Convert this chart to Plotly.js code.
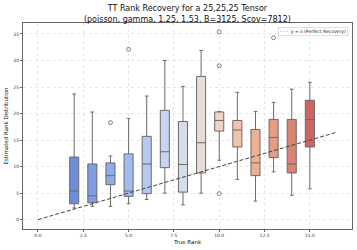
<!DOCTYPE html>
<html>
<head>
<meta charset="utf-8">
<script src="https://cdn.plot.ly/plotly-3.0.1.min.js"></script>
<style>html,body{margin:0;padding:0;background:#fff;}#chart{width:357px;height:250px;}</style>
</head>
<body>
<div id="chart"></div>
<script>
// True ranks (box positions)
const trueRanks = [2, 3, 4, 5, 6, 7, 8, 9, 10, 11, 12, 13, 14, 15];
// Box statistics
const lowerWhisker = [2.2, 2.5, 2.5, 3.0, 3.8, 5.0, 2.8, 5.0, 11.2, 7.6, 3.5, 9.0, 4.6, 5.8];
const q1Values     = [3.0, 3.2, 6.6, 4.4, 4.9, 9.8, 5.2, 8.8, 16.7, 13.7, 8.3, 11.7, 8.8, 13.7];
const medianValues = [5.4, 4.5, 8.3, 5.4, 10.5, 12.8, 10.4, 14.5, 18.7, 16.9, 10.7, 15.5, 10.5, 18.9];
const q3Values     = [11.8, 10.5, 10.7, 12.4, 15.7, 20.6, 18.5, 27.0, 20.3, 18.7, 17.0, 18.9, 18.9, 22.5];
const upperWhisker = [23.7, 20.3, 12.0, 19.1, 23.3, 30.0, 25.1, 31.9, 20.4, 24.0, 20.4, 22.1, 24.6, 25.9];
// Outliers (fliers)
const outlierRanks  = [4, 5, 10, 10, 10, 13];
const outlierValues = [18.3, 32.1, 35.4, 29.0, 4.9, 34.3];
// Perfect recovery reference line
const refLineX = [0, 16.5];
const refLineY = [0, 16.5];
const xTickVals = [0, 2.5, 5, 7.5, 10, 12.5, 15];
const yTickVals = [0, 5, 10, 15, 20, 25, 30, 35];
const legendLabel = 'y = x (Perfect Recovery)';

const boxColors = ['#6f8ddb','#7f9ce3','#8fabea','#a2bbf0','#b5c9f2','#c6d5f0','#d6dde8',
                   '#e8ddd6','#f0d3c4','#f2c3ab','#eeb095','#e69c83','#d98372','#cc6663'];

const traces = [];
trueRanks.forEach((r, i) => {
  traces.push({
    type: 'box',
    x: [r],
    q1: [q1Values[i]],
    median: [medianValues[i]],
    q3: [q3Values[i]],
    lowerfence: [lowerWhisker[i]],
    upperfence: [upperWhisker[i]],
    width: 0.5,
    whiskerwidth: 0.4,
    fillcolor: boxColors[i],
    line: {color: '#6a6a6a', width: 1},
    boxpoints: false,
    hoverinfo: 'skip',
    showlegend: false
  });
});
traces.push({
  type: 'scatter', mode: 'markers',
  x: outlierRanks, y: outlierValues,
  marker: {symbol: 'circle-open', size: 4, color: '#666666', line: {width: 0.8, color: '#666666'}},
  showlegend: false, hoverinfo: 'skip'
});
traces.push({
  type: 'scatter', mode: 'lines',
  x: refLineX, y: refLineY,
  line: {color: '#444444', width: 1, dash: '4px,2px'},
  name: legendLabel,
  showlegend: false, hoverinfo: 'skip'
});

const layout = {
  width: 357, height: 250,
  margin: {l: 23, r: 5, t: 23, b: 21},
  paper_bgcolor: '#ffffff', plot_bgcolor: '#ffffff',
  font: {family: 'DejaVu Sans', color: '#222'},
  title: {
    text: 'TT Rank Recovery for a 25,25,25 Tensor<br>(poisson, gamma, 1.25, 1.53, B=3125, Scov=7812)',
    font: {size: 8, color: '#111'},
    x: 0.525, xanchor: 'center', y: 0.955, yanchor: 'middle', yref: 'container'
  },
  xaxis: {
    range: [-0.825, 17.325],
    tickvals: xTickVals, tickformat: '.1f',
    tickfont: {size: 4.5, color: '#333'},
    ticks: 'outside', ticklen: 2, tickcolor: '#666',
    showgrid: true, gridcolor: '#dddddd', griddash: 'dot', gridwidth: 0.7,
    zeroline: false,
    showline: true, linecolor: '#666', linewidth: 1, mirror: true,
    title: {text: 'True Rank', font: {size: 5.5, color: '#111'}, standoff: 2}
  },
  yaxis: {
    range: [-1.76, 37.07],
    tickvals: yTickVals,
    tickfont: {size: 4.5, color: '#333'},
    ticks: 'outside', ticklen: 2, tickcolor: '#666',
    showgrid: true, gridcolor: '#dddddd', griddash: 'dot', gridwidth: 0.7,
    zeroline: false,
    showline: true, linecolor: '#666', linewidth: 1, mirror: true,
    title: {text: 'Estimated Rank Distribution', font: {size: 5.5, color: '#111'}, standoff: 4}
  },
  showlegend: false,
  annotations: [{
    xref: 'paper', yref: 'paper', x: 0.988, y: 0.982, xanchor: 'right', yanchor: 'top',
    text: '<span style="color:#444">- - -</span>&nbsp;&nbsp;' + legendLabel,
    showarrow: false, align: 'left',
    font: {size: 4.5, color: '#222'},
    bgcolor: 'rgba(255,255,255,0.9)', bordercolor: '#cccccc', borderwidth: 0.6, borderpad: 1.5
  }]
};

Plotly.newPlot('chart', traces, layout, {staticPlot: true, displayModeBar: false});
</script>
</body>
</html>
